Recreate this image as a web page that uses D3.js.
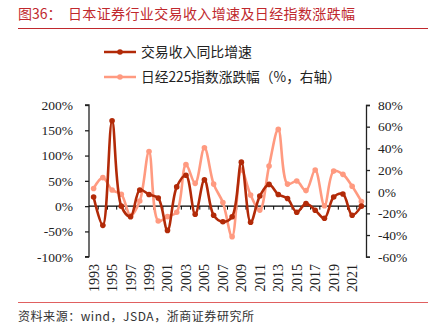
<!DOCTYPE html>
<html><head><meta charset="utf-8">
<script src="https://cdn.jsdelivr.net/npm/d3@7/dist/d3.min.js"></script>
<style>
body{margin:0;background:#fff;}
svg{display:block;}
</style></head>
<body>
<svg id="c" width="432" height="335"></svg>
<script>
const years = d3.range(1993, 2023).map(String);
const tradeGrowth = [18, -38, 169, 0, -21, 32, 23, 16, -48, 38, 61, -16, 52, -18, -31, -21, 87, -32, 20, 43, 23, 15, -12, 5, -8, -24, 18, 24, -18, 0];
const nikkeiChange = [3, 13, 1.5, -2.4, -22, -8.6, 37, -27, -23, -19, 25, 7.7, 40.6, 7, -10, -41.5, 20, -3, -17, 23.7, 57.5, 7, 9.8, 1, 20, -13, 19, 16, 5, -9];
const leftTicks = [200, 150, 100, 50, 0, -50, -100];
const rightTicks = [80, 60, 40, 20, 0, -20, -40, -60];
const yearLabels = years.filter((d, i) => i % 2 === 0);
const seriesNames = ["交易收入同比增速", "日经225指数涨跌幅（%，右轴）"];
const title = "图36：";
const titleMain = "日本证券行业交易收入增速及日经指数涨跌幅";
const source = "资料来源：wind，JSDA，浙商证券研究所";

const darkC = "#B22A08", lightC = "#FF9A80", redC = "#C0282D";
const svg = d3.select("#c");
const serif = "'Liberation Serif','Times New Roman',serif";
const cjk = "'Noto Sans CJK SC','Noto Sans',sans-serif";

const L = 89, R = 366, T = 105, B = 256.7;
const x = d3.scaleBand().domain(years).range([L, R]).padding(0);
const yL = d3.scaleLinear().domain([-100, 200]).range([B, T]);
const yR = d3.scaleLinear().domain([-60, 80]).range([B, T]);
const cx = d => x(d) + x.bandwidth() / 2;

// title
svg.append("text").attr("x", 18).attr("y", 19).attr("fill", redC)
  .style("font-family", cjk).style("font-size", "14px").text(title);
svg.append("text").attr("x", 68).attr("y", 19).attr("fill", redC)
  .style("font-family", cjk).style("font-size", "14px")
  .attr("textLength", 287).attr("lengthAdjust", "spacing").text(titleMain);
svg.append("line").attr("x1", 18).attr("x2", 428).attr("y1", 28.5).attr("y2", 28.5)
  .attr("stroke", redC).attr("stroke-width", 1);

// legend
const legendW = [111, 200];
seriesNames.forEach((n, i) => {
  const yy = 52 + i * 25;
  const c = i === 0 ? darkC : lightC;
  svg.append("line").attr("x1", 104).attr("x2", 136).attr("y1", yy).attr("y2", yy)
    .attr("stroke", c).attr("stroke-width", 2.5);
  svg.append("circle").attr("cx", 120).attr("cy", yy).attr("r", 2.8).attr("fill", c);
  svg.append("text").attr("x", 141).attr("y", yy + 5).attr("fill", "#222")
    .style("font-family", cjk).style("font-size", "14px")
    .attr("textLength", legendW[i]).attr("lengthAdjust", "spacingAndGlyphs").text(n);
});

// left axis
const la = svg.append("g").attr("transform", `translate(${L},0)`)
  .call(d3.axisLeft(yL).tickValues(leftTicks).tickFormat(d => d + "%").tickSizeInner(4).tickSizeOuter(4));
la.selectAll("path,line").attr("stroke", "#222").attr("stroke-width", 1.3);
la.selectAll("text").attr("x", -16).style("font-family", serif).style("font-size", "13.5px").attr("fill", "#222");
la.select(".domain").attr("d", `M-4,${T}H0V${B}H-4`);

// right axis
const ra = svg.append("g").attr("transform", `translate(${R},0)`)
  .call(d3.axisRight(yR).tickValues(rightTicks).tickFormat(d => d + "%").tickSizeInner(4).tickSizeOuter(4));
ra.selectAll("path,line").attr("stroke", "#222").attr("stroke-width", 1.3);
ra.selectAll("text").attr("x", 12).style("font-family", serif).style("font-size", "13.5px").attr("fill", "#222");

// x axis at zero
const y0 = yL(0);
const xa = svg.append("g").attr("transform", `translate(0,${y0})`)
  .call(d3.axisBottom(x).tickValues(years).tickSize(0).tickFormat(""));
xa.select(".domain").attr("d", `M${L},0H${R}`).attr("stroke", "#000").attr("stroke-width", 1.3);
xa.selectAll(".tick").remove();
xa.selectAll("line.bt").data(years.slice(1)).enter().append("line").attr("class", "bt")
  .attr("x1", d => x(d)).attr("x2", d => x(d)).attr("y1", 0).attr("y2", 3.5)
  .attr("stroke", "#000").attr("stroke-width", 1);

// x labels
svg.append("g").selectAll("text").data(yearLabels).enter().append("text")
  .attr("transform", d => `translate(${cx(d) + 5},264) rotate(-90)`)
  .attr("text-anchor", "end").style("font-family", serif).style("font-size", "14px")
  .attr("fill", "#222").text(d => d);

// lines
const curve = d3.curveCatmullRom.alpha(0.5);
const lineR = d3.line().x((d, i) => cx(years[i])).y(d => yR(d)).curve(curve);
const lineL = d3.line().x((d, i) => cx(years[i])).y(d => yL(d)).curve(curve);
svg.append("path").attr("d", lineR(nikkeiChange)).attr("fill", "none").attr("stroke", lightC).attr("stroke-width", 2.6);
svg.append("g").selectAll("circle").data(nikkeiChange).enter().append("circle")
  .attr("cx", (d, i) => cx(years[i])).attr("cy", d => yR(d)).attr("r", 2.8).attr("fill", lightC);
svg.append("path").attr("d", lineL(tradeGrowth)).attr("fill", "none").attr("stroke", darkC).attr("stroke-width", 2.6);
svg.append("g").selectAll("circle").data(tradeGrowth).enter().append("circle")
  .attr("cx", (d, i) => cx(years[i])).attr("cy", d => yL(d)).attr("r", 2.8).attr("fill", darkC);

// bottom
svg.append("line").attr("x1", 18).attr("x2", 428).attr("y1", 302.5).attr("y2", 302.5)
  .attr("stroke", "#E06060").attr("stroke-width", 1);
svg.append("text").attr("x", 18).attr("y", 321).attr("fill", "#333")
  .style("font-family", cjk).style("font-size", "12px")
  .attr("textLength", 236).attr("lengthAdjust", "spacing").text(source);
</script>
</body></html>
